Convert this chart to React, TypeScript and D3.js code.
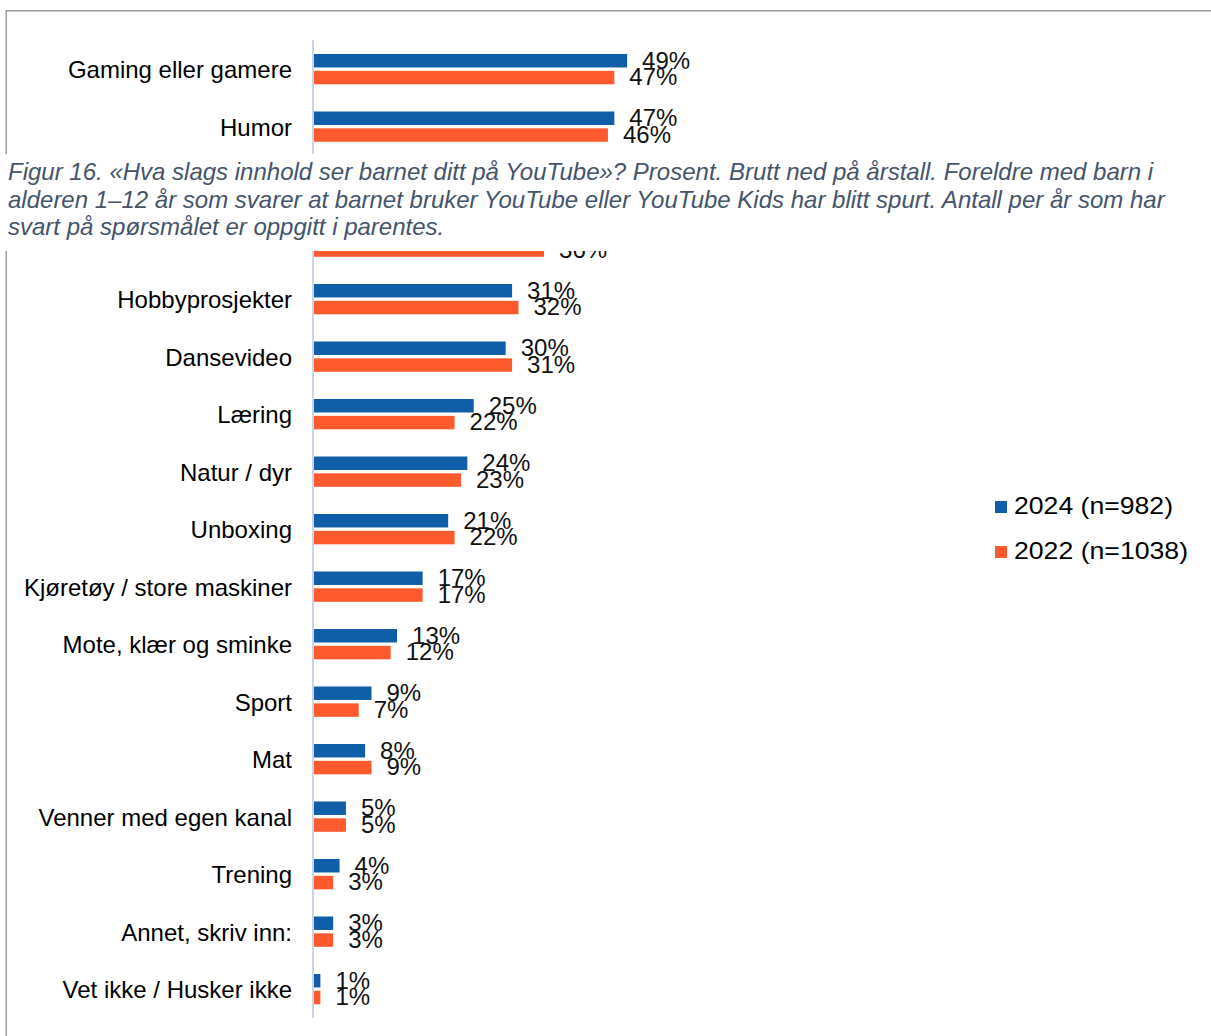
import React from "react";
import * as d3 from "d3";

const categories = [
  "Gaming eller gamere",
  "Humor",
  "Musikk",
  "Lek med leker",
  "Hobbyprosjekter",
  "Dansevideo",
  "Læring",
  "Natur / dyr",
  "Unboxing",
  "Kjøretøy / store maskiner",
  "Mote, klær og sminke",
  "Sport",
  "Mat",
  "Venner med egen kanal",
  "Trening",
  "Annet, skriv inn:",
  "Vet ikke / Husker ikke",
];

const values2024 = [49, 47, 41, 37, 31, 30, 25, 24, 21, 17, 13, 9, 8, 5, 4, 3, 1];
const values2022 = [47, 46, 40, 36, 32, 31, 22, 23, 22, 17, 12, 7, 9, 5, 3, 3, 1];

const seriesNames = ["2024 (n=982)", "2022 (n=1038)"];
const seriesKeys = ["2024", "2022"];
const seriesColors = ["#0F5EA7", "#FF5A2E"];

const captionLines = [
  "Figur 16. «Hva slags innhold ser barnet ditt på YouTube»? Prosent. Brutt ned på årstall. Foreldre med barn i",
  "alderen 1–12 år som svarer at barnet bruker YouTube eller YouTube Kids har blitt spurt. Antall per år som har",
  "svart på spørsmålet er oppgitt i parentes.",
];

const W = 1211;
const H = 1036;
const FONT = "'Liberation Sans', Arial, sans-serif";

export default function App() {
  const y = d3.scaleBand<string>().domain(categories).range([40, 1017.5]).padding(0);
  const inner = d3.scaleBand<string>().domain(seriesKeys).range([14, 44.3]).paddingInner(0.2);
  const x = d3.scaleLinear().domain([0, 100]).range([314, 953]);
  const seriesValues = [values2024, values2022];
  const legendWidths = [159, 174];

  return (
    <svg
      width={W}
      height={H}
      style={{ position: "absolute", left: 0, top: 0, display: "block", background: "#fff" }}
      fontFamily={FONT}
    >
      <rect x={0} y={0} width={W} height={H} fill="#fff" />
      {/* frame */}
      <line x1={6} x2={W} y1={10.75} y2={10.75} stroke="#9c9c9c" strokeWidth={1.5} />
      <line x1={6.25} x2={6.25} y1={10} y2={H} stroke="#9c9c9c" strokeWidth={1.5} />

      {/* axis line */}
      <line x1={313} x2={313} y1={40} y2={1018} stroke="#C9D5E6" strokeWidth={2} />

      {categories.map((c, i) => {
        const y0 = y(c)!;
        return (
          <g key={c}>
            <text
              x={292}
              y={y0 + y.bandwidth() / 2 + 3}
              textAnchor="end"
              dominantBaseline="middle"
              fontSize={24}
              fill="#000"
            >
              {c}
            </text>
            {seriesKeys.map((k, j) => {
              const v = seriesValues[j][i];
              const by = y0 + inner(k)!;
              return (
                <g key={k}>
                  <rect
                    x={x(0)}
                    y={by}
                    width={x(v) - x(0)}
                    height={inner.bandwidth()}
                    fill={seriesColors[j]}
                  />
                  <text
                    x={x(v) + 15}
                    y={by + inner.bandwidth() / 2 + 1.5}
                    dominantBaseline="middle"
                    fontSize={24}
                    fill="#111"
                  >
                    {v}%
                  </text>
                </g>
              );
            })}
          </g>
        );
      })}

      {/* legend */}
      {seriesNames.map((s, j) => (
        <g key={s} transform={`translate(995, ${501 + j * 45})`}>
          <rect x={0} y={0} width={12} height={12} fill={seriesColors[j]} />
          <text
            x={19}
            y={7}
            dominantBaseline="middle"
            fontSize={24}
            fill="#000"
            textLength={legendWidths[j]}
            lengthAdjust="spacingAndGlyphs"
          >
            {s}
          </text>
        </g>
      ))}

      {/* caption box overlay */}
      <rect x={0} y={154} width={W} height={97} fill="#fff" />
      {captionLines.map((l, i) => (
        <text
          key={i}
          x={8}
          y={180 + i * 27.7}
          fontSize={24}
          fontStyle="italic"
          fill="#44546A"
        >
          {l}
        </text>
      ))}
    </svg>
  );
}
